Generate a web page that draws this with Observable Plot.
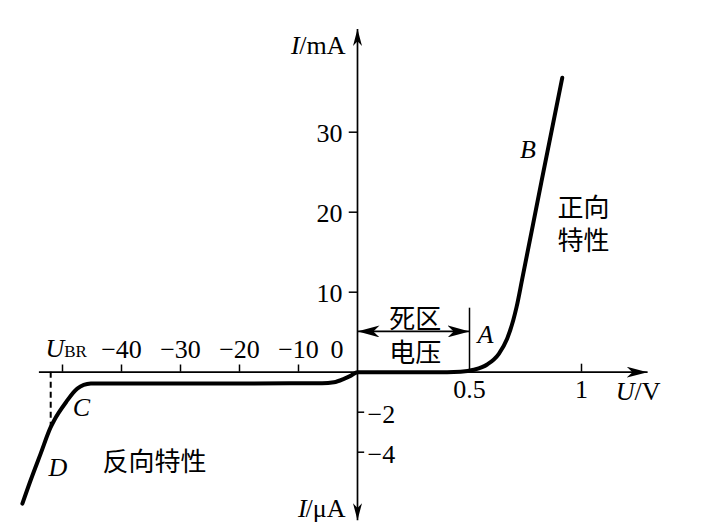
<!DOCTYPE html>
<html>
<head>
<meta charset="utf-8">
<script src="https://cdn.jsdelivr.net/npm/d3@7"></script>
<script src="https://cdn.jsdelivr.net/npm/@observablehq/plot@0.6"></script>
<style>
  body { margin: 0; background: #fff; }
</style>
</head>
<body>
<div id="chart"></div>
<script>
// 正向特性: U (V), I (mA)
const forwardU = [0, 0.1, 0.2, 0.3, 0.4, 0.46, 0.519, 0.579, 0.631, 0.668, 0.695, 0.71, 0.735, 0.821, 0.914];
const forwardI = [0, 0, 0, 0, 0, 0.05, 0.3, 0.96, 2.3, 4.18, 6.46, 8.13, 11.6, 23.8, 36.8];

// 反向特性: U (V), I (µA)
const reverseU = [-56.8, -55.4, -53.7, -52, -51.4, -49.4, -47.5, -45.2, -44, -20, -6, -4, -2.3, -1.1];
const reverseI = [-6.57, -5.4, -4.07, -2.75, -2.4, -1.5, -0.82, -0.57, -0.56, -0.56, -0.55, -0.5, -0.33, -0.17];

// ticks
const xTicksNeg = [-50, -40, -30, -20, -10];
const xLabelsNeg = [-40, -30, -20, -10];
const xTicksPos = [1];
const xLabelsPos = [0.5, 1];
const yTicksPos = [10, 20, 30];
const yTicksNeg = [-2, -4];

const uBR = -52;        // 击穿电压
const uDead = 0.5;      // 死区电压

const curve = reverseU.map((u, k) => ({u, i: reverseI[k]}))
  .concat(forwardU.map((u, k) => ({u, i: forwardI[k]})));

const fmt = d => d < 0 ? "\u2212" + Math.abs(d) : String(d);

// filled arrow head (works for start and end)
const arrowHead = (len, half) => (color, context) => {
  const ns = "http://www.w3.org/2000/svg";
  const m = context.document.createElementNS(ns, "marker");
  m.setAttribute("viewBox", `${-len} ${-half} ${len} ${half * 2}`);
  m.setAttribute("markerWidth", len);
  m.setAttribute("markerHeight", half * 2);
  m.setAttribute("markerUnits", "userSpaceOnUse");
  m.setAttribute("refX", 0);
  m.setAttribute("refY", 0);
  m.setAttribute("orient", "auto-start-reverse");
  const p = context.document.createElementNS(ns, "path");
  p.setAttribute("d", `M0,0L${-len},${-half}L${-len * 0.72},0L${-len},${half}Z`);
  p.setAttribute("fill", "#000");
  p.setAttribute("stroke", "none");
  m.appendChild(p);
  return m;
};

const serif = "Liberation Serif, Times New Roman, serif";
const cjk = "Noto Sans CJK SC, sans-serif";

const chart = Plot.plot({
  width: 703,
  height: 530,
  margin: 0,
  style: {fontFamily: serif, background: "#fff"},
  // piecewise: 反向电压 coarse, 正向电压 fine; I in µA below 0, mA above 0
  x: {type: "linear", domain: [-60, 0, 1.4], range: [3, 357, 670.6], axis: null},
  y: {type: "linear", domain: [-8, 0, 45], range: [531.7, 371.7, 11.7], axis: null},
  marks: [
    // axes
    Plot.link([0], {x1: -54, x2: 1.295, y1: 0, y2: 0, stroke: "#000", strokeWidth: 1.7, markerEnd: arrowHead(21, 5.5)}),
    Plot.link([0], {x1: 0, x2: 0, y1: -7.4, y2: 42.9, stroke: "#000", strokeWidth: 1.7, markerStart: arrowHead(17, 4.5), markerEnd: arrowHead(17, 4.5)}),

    // ticks
    Plot.ruleX(xTicksNeg, {x: d => d, y1: 0, y2: 0.9, stroke: "#000", strokeWidth: 1.5}),
    Plot.ruleX(xTicksPos, {x: d => d, y1: 0, y2: 1, stroke: "#000", strokeWidth: 1.5}),
    Plot.ruleY(yTicksPos, {y: d => d, x1: -1.4, x2: 0, stroke: "#000", strokeWidth: 1.5}),
    Plot.ruleY(yTicksNeg, {y: d => d, x1: 0, x2: 0.032, stroke: "#000", strokeWidth: 1.5}),

    // tick labels
    Plot.text(xLabelsNeg, {x: d => d, y: 0, text: fmt, lineAnchor: "bottom", dy: -14, fontSize: 26}),
    Plot.text([0], {x: d => d, y: 0, text: ["0"], textAnchor: "end", lineAnchor: "bottom", dy: -14, dx: -14, fontSize: 26}),
    Plot.text(xLabelsPos, {x: d => d, y: 0, text: fmt, lineAnchor: "bottom", dy: 26, fontSize: 26}),
    Plot.text(yTicksPos, {x: 0, y: d => d, text: fmt, textAnchor: "end", lineAnchor: "bottom", dx: -15, dy: 10, fontSize: 26}),
    Plot.text(yTicksNeg, {x: 0, y: d => d, text: fmt, textAnchor: "start", lineAnchor: "bottom", dx: 10, dy: 11, fontSize: 26}),

    // axis titles
    Plot.text([0], {x: -9.8, y: 40.8, text: ["I"], textAnchor: "end", lineAnchor: "bottom", dy: 8, fontSize: 26, fontStyle: "italic"}),
    Plot.text([0], {x: -2.03, y: 40.8, text: ["/mA"], textAnchor: "end", lineAnchor: "bottom", dy: 8, fontSize: 26}),
    Plot.text([0], {x: -8.6, y: -6.84, text: ["I"], textAnchor: "end", lineAnchor: "bottom", dy: 8, fontSize: 26, fontStyle: "italic"}),
    Plot.text([0], {x: -2.03, y: -6.84, text: ["/\u03bcA"], textAnchor: "end", lineAnchor: "bottom", dy: 8, fontSize: 26}),
    Plot.text([0], {x: 1.237, y: 0, text: ["U"], textAnchor: "end", lineAnchor: "bottom", dy: 28, fontSize: 26, fontStyle: "italic"}),
    Plot.text([0], {x: 1.237, y: 0, text: ["/V"], textAnchor: "start", lineAnchor: "bottom", dy: 28, fontSize: 26}),
    Plot.text([uBR], {x: d => d + 2.3, y: 0, text: ["U"], textAnchor: "end", lineAnchor: "bottom", dy: -15, fontSize: 26, fontStyle: "italic"}),
    Plot.text([uBR], {x: d => d + 2.3, y: 0, text: ["BR"], textAnchor: "start", lineAnchor: "bottom", dy: -15, fontSize: 17}),

    // 击穿电压 dashed line and 死区 boundary
    Plot.ruleX([uBR], {x: d => d, y1: 0, y2: -2.75, stroke: "#000", strokeWidth: 2, strokeDasharray: "6,4"}),
    Plot.ruleX([uDead], {x: d => d, y1: 0, y2: 8, stroke: "#000", strokeWidth: 1.5}),
    Plot.link([uDead], {x1: 0, x2: d => d, y1: 5.1, y2: 5.1, stroke: "#000", strokeWidth: 1.6, markerStart: arrowHead(22, 6), markerEnd: arrowHead(22, 6)}),

    // I–U curve
    Plot.line(curve, {x: "u", y: "i", stroke: "#000", strokeWidth: 4, curve: "monotone-x"}),

    // point letters
    Plot.text([[0.571, 3.7, "A"], [0.761, 26.8, "B"], [-46.8, -2.17, "C"], [-50.8, -5.17, "D"]], {
      x: d => d[0], y: d => d[1], text: d => d[2], lineAnchor: "bottom", fontSize: 26, fontStyle: "italic"
    }),

    // Chinese notes
    Plot.text([[0.258, 4.73, "死区\n电压"], [1.009, 18.68, "正向\n特性"]], {
      x: d => d[0], y: d => d[1], text: d => d[2], fontFamily: cjk, fontSize: 26, lineHeight: 1.3
    }),
    Plot.text([[-34.4, -4.5, "反向特性"]], {
      x: d => d[0], y: d => d[1], text: d => d[2], fontFamily: cjk, fontSize: 26
    })
  ]
});

document.getElementById("chart").append(chart);
</script>
</body>
</html>
